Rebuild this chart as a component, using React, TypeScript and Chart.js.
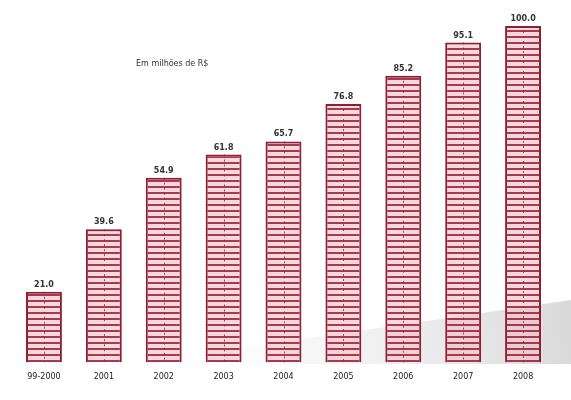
import React, { useEffect, useRef } from "react";
import { Chart, registerables } from "chart.js";

Chart.register(...registerables);

const categories = ["99-2000", "2001", "2002", "2003", "2004", "2005", "2006", "2007", "2008"];
const values = [21.0, 39.6, 54.9, 61.8, 65.7, 76.8, 85.2, 95.1, 100.0];
const legendText = "Em milhões de R$";

function makePattern(): CanvasPattern | string {
  const c = document.createElement("canvas");
  c.width = 4;
  c.height = 6;
  const g = c.getContext("2d");
  if (!g) return "rgba(230,180,185,0.4)";
  g.fillStyle = "rgba(242,190,198,0.6)";
  g.fillRect(0, 0, 4, 6);
  g.fillStyle = "rgba(150,30,55,0.85)";
  g.fillRect(0, 0, 4, 2);
  const p = g.createPattern(c, "repeat");
  return p || "rgba(230,180,185,0.4)";
}

const decorPlugin = {
  id: "decor",
  beforeDraw(chart: any) {
    const { ctx, width, height } = chart;
    ctx.save();
    ctx.fillStyle = "#ffffff";
    ctx.fillRect(0, 0, width, height);
    const grad = ctx.createLinearGradient(200, 362, 571, 300);
    grad.addColorStop(0, "rgba(200,200,200,0)");
    grad.addColorStop(1, "rgba(170,170,170,0.45)");
    ctx.fillStyle = grad;
    ctx.beginPath();
    ctx.moveTo(130, 364);
    ctx.lineTo(571, 300);
    ctx.lineTo(571, 364);
    ctx.closePath();
    ctx.fill();
    ctx.fillStyle = "#333";
    ctx.font = "8px 'DejaVu Sans'";
    ctx.textBaseline = "middle";
    ctx.fillText(legendText, 136, 64);
    ctx.restore();
  },
  afterDatasetsDraw(chart: any) {
    const { ctx } = chart;
    const meta = chart.getDatasetMeta(0);
    ctx.save();
    meta.data.forEach((bar: any, i: number) => {
      const { x, y, base } = bar.getProps(["x", "y", "base"], true);
      ctx.strokeStyle = "rgba(150,30,55,0.8)";
      ctx.setLineDash([2, 3]);
      ctx.lineWidth = 1;
      ctx.beginPath();
      ctx.moveTo(Math.round(x) + 0.5, y);
      ctx.lineTo(Math.round(x) + 0.5, base);
      ctx.stroke();
      ctx.setLineDash([]);
      ctx.fillStyle = "#333";
      ctx.font = "bold 8px 'DejaVu Sans'";
      ctx.textAlign = "center";
      ctx.textBaseline = "bottom";
      ctx.fillText(values[i].toFixed(1), x, y - 3);
    });
    ctx.restore();
  },
};

export default function App() {
  const ref = useRef<HTMLCanvasElement | null>(null);
  useEffect(() => {
    document.body.style.margin = "0";
    if (!ref.current) return;
    const chart = new Chart(ref.current, {
      type: "bar",
      data: {
        labels: categories,
        datasets: [
          {
            data: values,
            backgroundColor: makePattern() as any,
            borderColor: "#8e1f33",
            borderWidth: { left: 2, right: 2, top: 2, bottom: 0 } as any,
            borderSkipped: false,
            barPercentage: 0.6,
            categoryPercentage: 1,
          },
        ],
      },
      options: {
        animation: false,
        responsive: false,
        layout: { padding: { top: 26, left: 14, right: 18, bottom: 8 } },
        plugins: { legend: { display: false }, tooltip: { enabled: false } },
        scales: {
          x: {
            grid: { display: false, drawTicks: false },
            border: { display: false },
            ticks: { color: "#222", font: { size: 8, family: "DejaVu Sans" }, padding: 10 },
          },
          y: { display: false, min: 0, max: 100 },
        },
      },
      plugins: [decorPlugin],
    });
    return () => chart.destroy();
  }, []);
  return <canvas ref={ref} width={571} height={400} style={{ display: "block" }} />;
}
